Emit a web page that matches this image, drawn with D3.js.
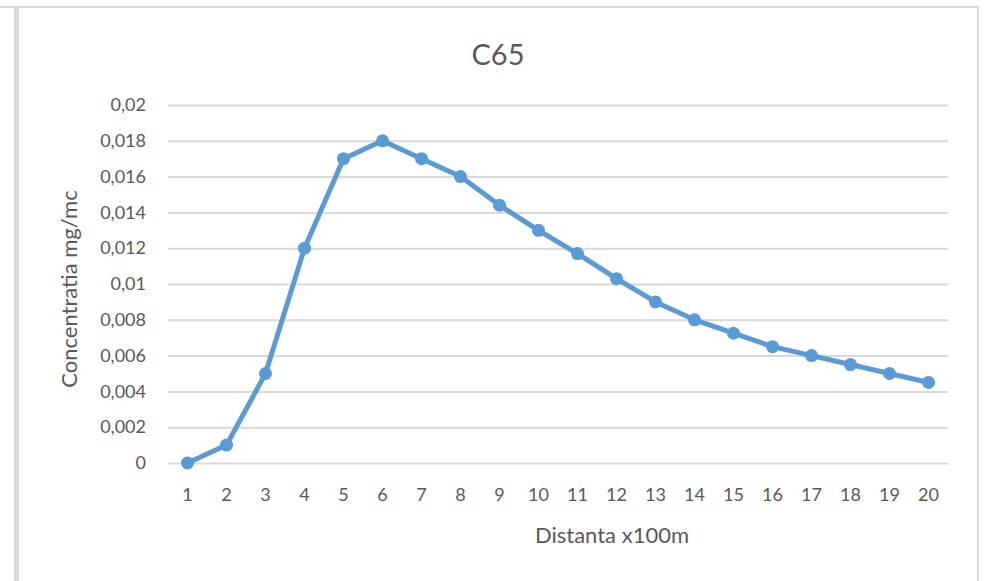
<!DOCTYPE html>
<html><head><meta charset="utf-8">
<script src="https://cdn.jsdelivr.net/npm/d3@7"></script>
<style>body{margin:0;background:#fff;} svg{display:block;}</style>
</head><body>
<svg id="c" width="987" height="581"></svg>
<script>
const categories = ["1","2","3","4","5","6","7","8","9","10","11","12","13","14","15","16","17","18","19","20"];
const values = [0, 0.001, 0.005, 0.012, 0.017, 0.018, 0.017, 0.016, 0.0144, 0.013, 0.0117, 0.0103, 0.009, 0.008, 0.00725, 0.0065, 0.006, 0.0055, 0.005, 0.0045];
const yTicks = [0, 0.002, 0.004, 0.006, 0.008, 0.01, 0.012, 0.014, 0.016, 0.018, 0.02];
const yTickLabels = ["0","0,002","0,004","0,006","0,008","0,01","0,012","0,014","0,016","0,018","0,02"];
const title = "C65";
const xTitle = "Distanta x100m";
const yTitle = "Concentratia mg/mc";

(function(){
const svg = d3.select("#c");
const font = "Lato, 'Open Sans', sans-serif";
const txt = "#595959";

// frame
svg.append("rect").attr("x",0).attr("y",6).attr("width",979).attr("height",2).attr("fill","#d9d9d9");
svg.append("rect").attr("x",14).attr("y",6).attr("width",5).attr("height",575).attr("fill","#d9d9d9");
svg.append("rect").attr("x",977).attr("y",6).attr("width",2).attr("height",575).attr("fill","#d9d9d9");

const pL=168, pR=948, pT=105, pB=463;
const x = d3.scaleBand().domain(categories).range([pL,pR]);
const y = d3.scaleLinear().domain([0,0.02]).range([pB,pT]);

const ya = d3.axisLeft(y).tickValues(yTicks).tickSize(-(pR-pL)).tickFormat((d,i)=>yTickLabels[i]).tickPadding(22);
const gy = svg.append("g").attr("transform",`translate(${pL},0)`).call(ya);
gy.select(".domain").remove();
gy.selectAll("line").attr("stroke","#d9d9d9").attr("stroke-width",2);
gy.selectAll("text").attr("fill",txt).style("font-family",font).style("font-size","18px");

const xa = d3.axisBottom(x).tickSize(0).tickPadding(25);
const gx = svg.append("g").attr("transform",`translate(0,${pB})`).call(xa);
gx.select(".domain").remove();
gx.selectAll("text").attr("fill",txt).style("font-family",font).style("font-size","18px");

const cx = d => x(d) + x.bandwidth()/2;
const line = d3.line().x((d,i)=>cx(categories[i])).y(d=>y(d));
svg.append("path").datum(values).attr("d",line).attr("fill","none")
  .attr("stroke","#5b9bd5").attr("stroke-width",5).attr("stroke-linejoin","round");
svg.selectAll("circle.pt").data(values).enter().append("circle").attr("class","pt")
  .attr("cx",(d,i)=>cx(categories[i])).attr("cy",d=>y(d)).attr("r",6.5).attr("fill","#5b9bd5");

svg.append("text").attr("x",498).attr("y",65).attr("text-anchor","middle")
  .attr("fill",txt).style("font-family",font).style("font-size","29px").text(title);
svg.append("text").attr("x",612).attr("y",543).attr("text-anchor","middle")
  .attr("fill",txt).style("font-family",font).style("font-size","22px").text(xTitle);
svg.append("text").attr("transform","translate(77,289) rotate(-90)").attr("text-anchor","middle")
  .attr("fill",txt).style("font-family",font).style("font-size","22px").text(yTitle);
})();
</script>
</body></html>
